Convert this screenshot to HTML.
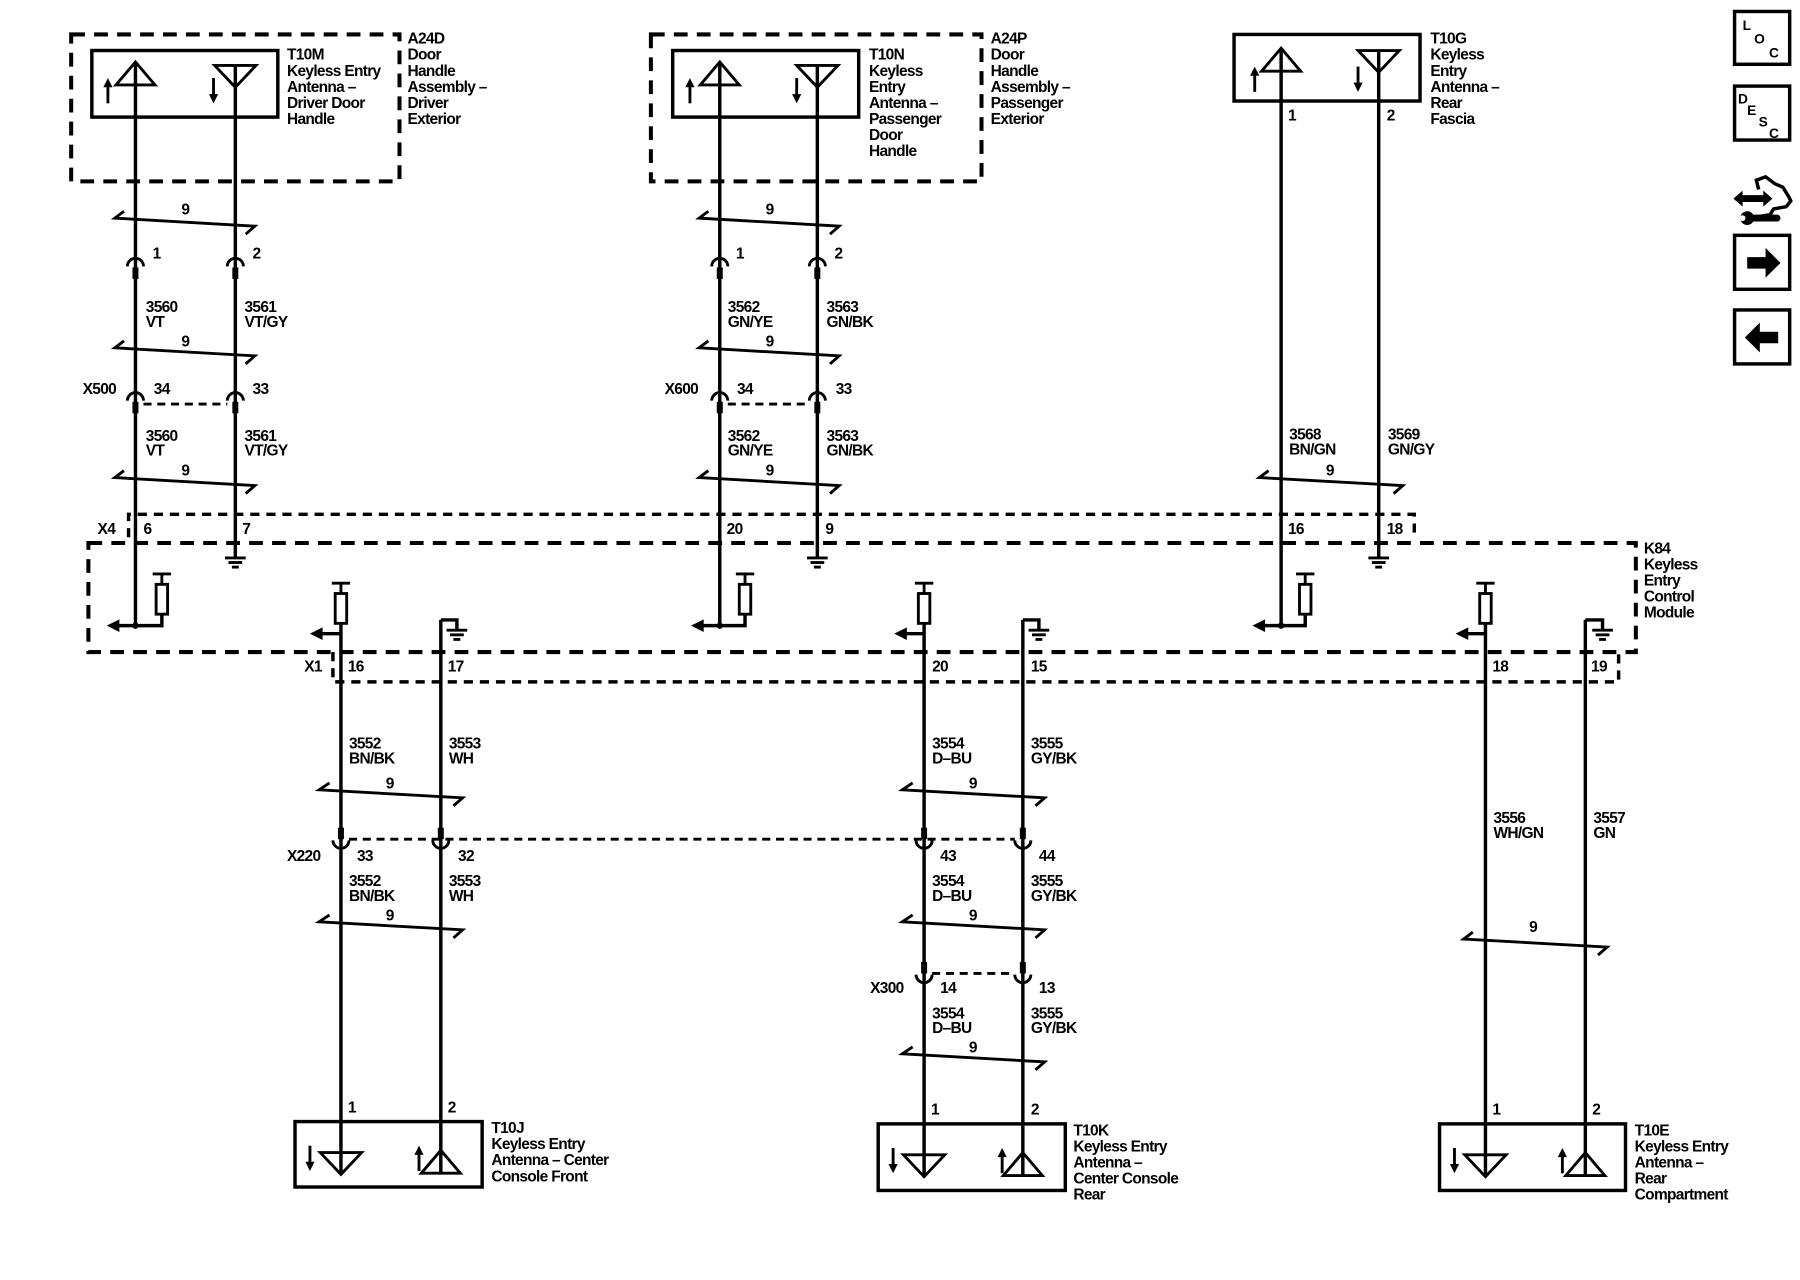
<!DOCTYPE html>
<html><head><meta charset="utf-8"><style>
html,body{margin:0;padding:0;background:#fff;}
svg{display:block;}
text{font-family:"Liberation Sans",Arial,sans-serif;font-size:13.5px;font-weight:bold;fill:#000;letter-spacing:-0.6px;}
</style></head><body>
<svg width="1800" height="1280" viewBox="0 0 1568 1115" preserveAspectRatio="none" xmlns="http://www.w3.org/2000/svg">
<defs>
<g id="ct"><path d="M-7,6 A7,7 0 0 1 7,6" fill="none" stroke="#000" stroke-width="2.5"/><rect x="-2.6" y="7" width="5.2" height="10" fill="#000"/></g>
<g id="cb"><path d="M-7,-6 A7,7 0 0 0 7,-6" fill="none" stroke="#000" stroke-width="2.5"/><rect x="-2.6" y="-17" width="5.2" height="10" fill="#000"/></g>
<g id="gnd" stroke="#000" stroke-width="2.5"><line x1="-9" y1="0" x2="9" y2="0"/><line x1="-6" y1="4" x2="6" y2="4"/><line x1="-3" y1="8" x2="3" y2="8"/></g>
<g id="res" stroke="#000" stroke-width="2.5" fill="#fff"><line x1="-8" y1="0" x2="8" y2="0"/><line x1="0" y1="0" x2="0" y2="9"/><rect x="-5" y="9" width="10" height="26"/></g>
<polygon id="al" points="0,0 11,-5.5 11,5.5" fill="#000"/>
<g id="upant" stroke="#000" stroke-width="2.5" fill="none"><path d="M-17,20 L0,0 L17,20 Z"/></g>
<g id="dnant" stroke="#000" stroke-width="2.5" fill="none"><path d="M-18,0 L18,0 L0,19 Z"/></g>
<g id="uparr"><line x1="0" y1="22" x2="0" y2="6" stroke="#000" stroke-width="2.5"/><polygon points="0,0 -4,8 4,8" fill="#000"/></g>
<g id="dnarr"><line x1="0" y1="0" x2="0" y2="16" stroke="#000" stroke-width="2.5"/><polygon points="0,22 -4,14 4,14" fill="#000"/></g>
</defs>

<g stroke="#000" fill="none">
<rect x="62" y="30" width="286" height="128" stroke-width="3.5" stroke-dasharray="12,8"/>
<rect x="567" y="30" width="288" height="128" stroke-width="3.5" stroke-dasharray="12,8"/>
<rect x="77" y="473" width="1348" height="95" stroke-width="3.5" stroke-dasharray="12,8"/>
<path d="M112,468 L112,448 L1232,448 L1232,468" stroke-width="3" stroke-dasharray="8,6"/>
<path d="M290,568 L290,594 L1410,594 L1410,568" stroke-width="3" stroke-dasharray="8,6"/>
<rect x="80" y="44" width="162" height="58" stroke-width="3"/>
<rect x="586" y="44" width="162" height="58" stroke-width="3"/>
<rect x="1075" y="30" width="162" height="58" stroke-width="3"/>
<rect x="257" y="977" width="163" height="57" stroke-width="3"/>
<rect x="765" y="979" width="163" height="58" stroke-width="3"/>
<rect x="1254" y="979" width="162" height="58" stroke-width="3"/>
<line x1="125" y1="352" x2="198" y2="352" stroke-width="2.5" stroke-dasharray="7,5"/>
<line x1="634" y1="352" x2="705" y2="352" stroke-width="2.5" stroke-dasharray="7,5"/>
<line x1="304" y1="731" x2="884" y2="731" stroke-width="2.5" stroke-dasharray="7,5"/>
<line x1="812" y1="848" x2="884" y2="848" stroke-width="2.5" stroke-dasharray="7,5"/>
<g stroke-width="3">
<line x1="118" y1="54" x2="118" y2="545"/>
<line x1="205" y1="57" x2="205" y2="485"/>
<line x1="627" y1="54" x2="627" y2="545"/>
<line x1="712" y1="57" x2="712" y2="485"/>
<line x1="1116" y1="42" x2="1116" y2="545"/>
<line x1="1201" y1="44" x2="1201" y2="485"/>
<line x1="297" y1="543" x2="297" y2="1022"/>
<line x1="384" y1="540" x2="384" y2="1022"/>
<line x1="805" y1="543" x2="805" y2="1024"/>
<line x1="891" y1="540" x2="891" y2="1024"/>
<line x1="1294" y1="543" x2="1294" y2="1024"/>
<line x1="1381" y1="540" x2="1381" y2="1024"/>
<polyline points="100,545 141,545 141,535"/>
<polyline points="609,545 649,545 649,535"/>
<polyline points="1098,545 1137,545 1137,535"/>
<line x1="280" y1="552" x2="297" y2="552"/>
<line x1="789" y1="552" x2="805" y2="552"/>
<line x1="1278" y1="552" x2="1294" y2="552"/>
<polyline points="384,540 398,540 398,548"/>
<polyline points="891,540 905,540 905,548"/>
<polyline points="1381,540 1396,540 1396,548"/>
</g>
<g stroke-width="2.5">
<path d="M108,184 L100,190 L222,197 L214,204"/>
<path d="M108,297 L100,303 L222,310 L214,317"/>
<path d="M108,410 L100,416 L222,423 L214,430"/>
<path d="M617,184 L609,190 L731,197 L723,204"/>
<path d="M617,297 L609,303 L731,310 L723,317"/>
<path d="M617,410 L609,416 L731,423 L723,430"/>
<path d="M1105,410 L1097,416 L1222,423 L1214,430"/>
<path d="M287,682 L278,688 L403,695 L395,702"/>
<path d="M287,797 L278,803 L403,810 L395,817"/>
<path d="M795,682 L786,688 L910,695 L902,702"/>
<path d="M795,797 L786,803 L910,810 L902,817"/>
<path d="M795,912 L786,918 L910,925 L902,932"/>
<path d="M1283,812 L1275,818 L1400,825 L1392,832"/>
</g>
</g>
<circle cx="118" cy="545" r="2.8"/><circle cx="627" cy="545" r="2.8"/><circle cx="1116" cy="545" r="2.8"/>

<use href="#upant" x="118" y="54"/><use href="#dnant" x="205" y="57"/><use href="#uparr" x="94" y="68"/><use href="#dnarr" x="186" y="68"/>
<use href="#upant" x="627" y="54"/><use href="#dnant" x="712" y="57"/><use href="#uparr" x="601" y="68"/><use href="#dnarr" x="694" y="68"/>
<use href="#upant" x="1116" y="42"/><use href="#dnant" x="1201" y="44"/><use href="#uparr" x="1093" y="58"/><use href="#dnarr" x="1183" y="58"/>
<use href="#dnant" x="297" y="1004"/><use href="#upant" x="384" y="1002"/><use href="#dnarr" x="270" y="998"/><use href="#uparr" x="365" y="998"/>
<use href="#dnant" x="805" y="1006"/><use href="#upant" x="891" y="1004"/><use href="#dnarr" x="778" y="1000"/><use href="#uparr" x="873" y="1000"/>
<use href="#dnant" x="1294" y="1006"/><use href="#upant" x="1381" y="1004"/><use href="#dnarr" x="1267" y="1000"/><use href="#uparr" x="1361" y="1000"/>

<use href="#ct" x="118" y="226"/><use href="#ct" x="205" y="226"/>
<use href="#ct" x="627" y="226"/><use href="#ct" x="712" y="226"/>
<use href="#ct" x="118" y="343"/><use href="#ct" x="205" y="343"/>
<use href="#ct" x="627" y="343"/><use href="#ct" x="712" y="343"/>
<use href="#cb" x="297" y="738"/><use href="#cb" x="384" y="738"/>
<use href="#cb" x="805" y="738"/><use href="#cb" x="891" y="738"/>
<use href="#cb" x="805" y="855"/><use href="#cb" x="891" y="855"/>

<use href="#gnd" x="205" y="486"/><use href="#gnd" x="712" y="486"/><use href="#gnd" x="1201" y="486"/>
<use href="#gnd" x="398" y="549"/><use href="#gnd" x="905" y="549"/><use href="#gnd" x="1396" y="549"/>
<use href="#res" x="141" y="500"/><use href="#res" x="649" y="500"/><use href="#res" x="1137" y="500"/>
<use href="#res" x="297" y="508"/><use href="#res" x="805" y="508"/><use href="#res" x="1294" y="508"/>
<use href="#al" x="93" y="545"/><use href="#al" x="602" y="545"/><use href="#al" x="1091" y="545"/>
<use href="#al" x="270" y="552"/><use href="#al" x="779" y="552"/><use href="#al" x="1268" y="552"/>

<text x="250" y="52">T10M</text><text x="250" y="66">Keyless Entry</text><text x="250" y="80">Antenna –</text><text x="250" y="94">Driver Door</text><text x="250" y="108">Handle</text>
<text x="355" y="38">A24D</text><text x="355" y="52">Door</text><text x="355" y="66">Handle</text><text x="355" y="80">Assembly –</text><text x="355" y="94">Driver</text><text x="355" y="108">Exterior</text>
<text x="757" y="52">T10N</text><text x="757" y="66">Keyless</text><text x="757" y="80">Entry</text><text x="757" y="94">Antenna –</text><text x="757" y="108">Passenger</text><text x="757" y="122">Door</text><text x="757" y="136">Handle</text>
<text x="863" y="38">A24P</text><text x="863" y="52">Door</text><text x="863" y="66">Handle</text><text x="863" y="80">Assembly –</text><text x="863" y="94">Passenger</text><text x="863" y="108">Exterior</text>
<text x="1246" y="38">T10G</text><text x="1246" y="52">Keyless</text><text x="1246" y="66">Entry</text><text x="1246" y="80">Antenna –</text><text x="1246" y="94">Rear</text><text x="1246" y="108">Fascia</text>
<text x="1122" y="105">1</text><text x="1208" y="105">2</text>

<text x="158" y="187">9</text><text x="667" y="187">9</text>
<text x="133" y="225">1</text><text x="220" y="225">2</text><text x="641" y="225">1</text><text x="727" y="225">2</text>
<text x="127" y="272">3560</text><text x="127" y="285">VT</text><text x="213" y="272">3561</text><text x="213" y="285">VT/GY</text>
<text x="634" y="272">3562</text><text x="634" y="285">GN/YE</text><text x="720" y="272">3563</text><text x="720" y="285">GN/BK</text>
<text x="158" y="302">9</text><text x="667" y="302">9</text>
<text x="72" y="343">X500</text><text x="134" y="343">34</text><text x="220" y="343">33</text>
<text x="579" y="343">X600</text><text x="642" y="343">34</text><text x="728" y="343">33</text>
<text x="127" y="384">3560</text><text x="127" y="397">VT</text><text x="213" y="384">3561</text><text x="213" y="397">VT/GY</text>
<text x="634" y="384">3562</text><text x="634" y="397">GN/YE</text><text x="720" y="384">3563</text><text x="720" y="397">GN/BK</text>
<text x="1123" y="383">3568</text><text x="1123" y="396">BN/GN</text><text x="1209" y="383">3569</text><text x="1209" y="396">GN/GY</text>
<text x="158" y="414">9</text><text x="667" y="414">9</text><text x="1155" y="414">9</text>
<text x="85" y="465">X4</text><text x="125" y="465">6</text><text x="211" y="465">7</text><text x="633" y="465">20</text><text x="719" y="465">9</text><text x="1122" y="465">16</text><text x="1208" y="465">18</text>
<text x="1432" y="482">K84</text><text x="1432" y="496">Keyless</text><text x="1432" y="510">Entry</text><text x="1432" y="524">Control</text><text x="1432" y="538">Module</text>
<text x="265" y="585">X1</text><text x="303" y="585">16</text><text x="390" y="585">17</text><text x="812" y="585">20</text><text x="898" y="585">15</text><text x="1300" y="585">18</text><text x="1386" y="585">19</text>

<text x="304" y="652">3552</text><text x="304" y="665">BN/BK</text><text x="391" y="652">3553</text><text x="391" y="665">WH</text>
<text x="812" y="652">3554</text><text x="812" y="665">D–BU</text><text x="898" y="652">3555</text><text x="898" y="665">GY/BK</text>
<text x="336" y="687">9</text><text x="844" y="687">9</text>
<text x="1301" y="717">3556</text><text x="1301" y="730">WH/GN</text><text x="1388" y="717">3557</text><text x="1388" y="730">GN</text>
<text x="250" y="750">X220</text><text x="311" y="750">33</text><text x="399" y="750">32</text><text x="819" y="750">43</text><text x="905" y="750">44</text>
<text x="304" y="772">3552</text><text x="304" y="785">BN/BK</text><text x="391" y="772">3553</text><text x="391" y="785">WH</text>
<text x="812" y="772">3554</text><text x="812" y="785">D–BU</text><text x="898" y="772">3555</text><text x="898" y="785">GY/BK</text>
<text x="336" y="802">9</text><text x="844" y="802">9</text><text x="1332" y="812">9</text>
<text x="758" y="865">X300</text><text x="819" y="865">14</text><text x="905" y="865">13</text>
<text x="812" y="887">3554</text><text x="812" y="900">D–BU</text><text x="898" y="887">3555</text><text x="898" y="900">GY/BK</text>
<text x="844" y="917">9</text>
<text x="303" y="969">1</text><text x="390" y="969">2</text><text x="811" y="971">1</text><text x="898" y="971">2</text><text x="1300" y="971">1</text><text x="1387" y="971">2</text>
<text x="428" y="987">T10J</text><text x="428" y="1001">Keyless Entry</text><text x="428" y="1015">Antenna – Center</text><text x="428" y="1029">Console Front</text>
<text x="935" y="989">T10K</text><text x="935" y="1003">Keyless Entry</text><text x="935" y="1017">Antenna –</text><text x="935" y="1031">Center Console</text><text x="935" y="1045">Rear</text>
<text x="1424" y="989">T10E</text><text x="1424" y="1003">Keyless Entry</text><text x="1424" y="1017">Antenna –</text><text x="1424" y="1031">Rear</text><text x="1424" y="1045">Compartment</text>

<g stroke="#000" stroke-width="3" fill="none">
<rect x="1511" y="10" width="48" height="46"/>
<rect x="1511" y="75" width="48" height="47"/>
<rect x="1511" y="205" width="48" height="47"/>
<rect x="1511" y="270" width="48" height="47"/>
<path d="M1532,165 L1530,157 L1538,154 L1546,160 L1553,163 L1558,171 L1560,175 L1556,180 L1545,182 L1542,187 L1530,189"/>
</g>
<text x="1518" y="26" style="font-size:12px">L</text><text x="1528" y="38" style="font-size:12px">O</text><text x="1541" y="50" style="font-size:12px">C</text>
<text x="1514" y="90" style="font-size:12px">D</text><text x="1522" y="100" style="font-size:12px">E</text><text x="1532" y="110" style="font-size:12px">S</text><text x="1541" y="120" style="font-size:12px">C</text>
<polygon points="1510,173 1518,166 1518,170 1536,170 1536,166 1544,173 1536,180 1536,176 1518,176 1518,180" fill="#000"/>
<path d="M1524,190 L1548,190" stroke="#000" stroke-width="6" stroke-linecap="round"/>
<circle cx="1522" cy="190" r="6" fill="#000"/><circle cx="1518" cy="190" r="2.5" fill="#fff"/>
<polygon points="1522,224 1538,224 1538,216 1551,229 1538,242 1538,234 1522,234" fill="#000"/>
<polygon points="1549,289 1533,289 1533,281 1520,294 1533,307 1533,299 1549,299" fill="#000"/>
</svg>
</body></html>
